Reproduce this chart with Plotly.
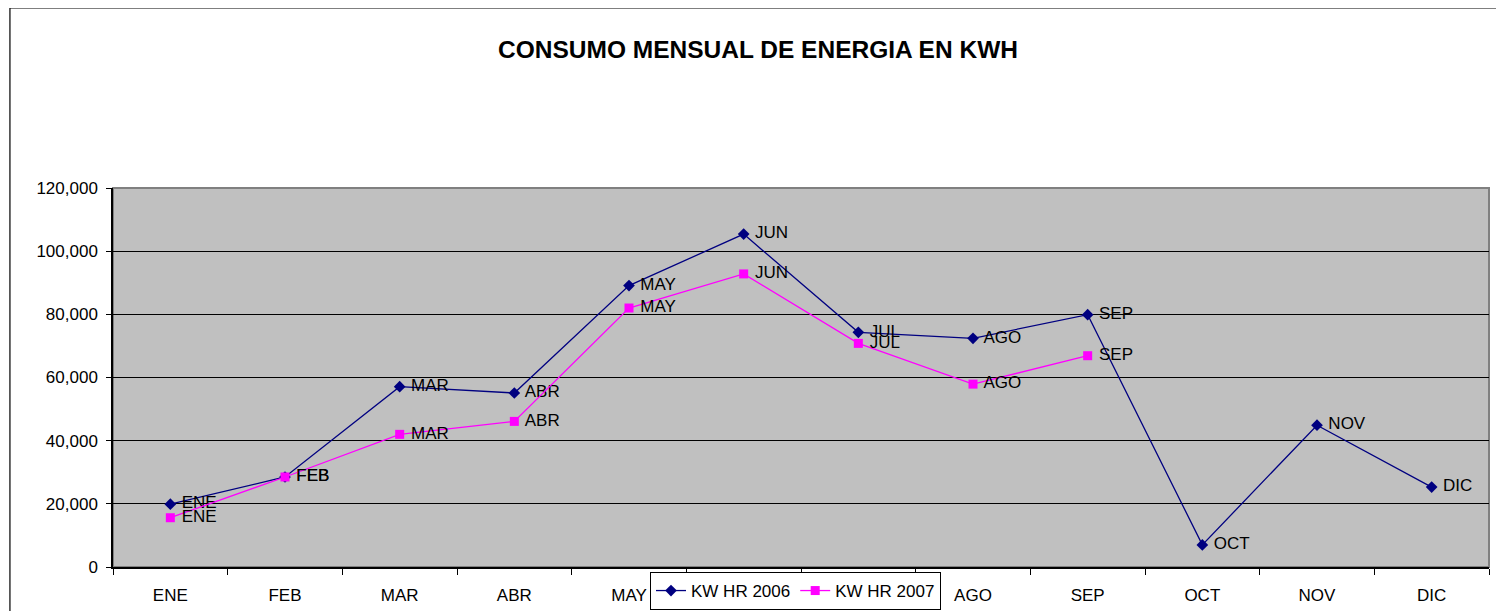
import plotly.graph_objects as go

months = ["ENE", "FEB", "MAR", "ABR", "MAY", "JUN", "JUL", "AGO", "SEP", "OCT", "NOV", "DIC"]
kwh_2006 = [19900, 28500, 57100, 55100, 89100, 105400, 74300, 72400, 79900, 7000, 44900, 25300]
months_2007 = ["ENE", "FEB", "MAR", "ABR", "MAY", "JUN", "JUL", "AGO", "SEP"]
kwh_2007 = [15600, 28500, 42000, 46100, 82000, 92800, 70800, 57900, 66900]
y_ticks = [0, 20000, 40000, 60000, 80000, 100000, 120000]
title_text = "CONSUMO MENSUAL DE ENERGIA EN KWH"

FONT = "Arial, Liberation Sans, sans-serif"
FS = 17

fig = go.Figure()
fig.add_trace(go.Scatter(
    x=months, y=kwh_2006, name="KW HR 2006", mode="lines+markers+text",
    text=[" " + m for m in months], textposition="middle right",
    textfont=dict(family=FONT, size=FS, color="black"),
    line=dict(color="#000080", width=1.3),
    marker=dict(symbol="diamond", size=9, color="#000080"),
))
fig.add_trace(go.Scatter(
    x=months_2007, y=kwh_2007, name="KW HR 2007", mode="lines+markers+text",
    text=[" " + m for m in months_2007], textposition="middle right",
    textfont=dict(family=FONT, size=FS, color="black"),
    line=dict(color="#FF00FF", width=1.3),
    marker=dict(symbol="square", size=9, color="#FF00FF"),
))

# outer chart border (extends beyond the visible area like the cropped reference)
fig.add_shape(type="rect", xref="paper", yref="paper",
              x0=-0.0749, x1=1.05, y0=-0.3, y1=1.475,
              line=dict(color="black", width=1.2), fillcolor="rgba(0,0,0,0)", layer="below")
# plot area border
fig.add_shape(type="rect", xref="paper", yref="paper",
              x0=0, x1=1, y0=0, y1=1,
              line=dict(color="#808080", width=2), fillcolor="rgba(0,0,0,0)", layer="below")

fig.add_annotation(text="<b>" + title_text + "</b>", xref="paper", yref="paper",
                   x=(758 - 113) / 1376, y=(567 - 49) / 379,
                   xanchor="center", yanchor="middle", showarrow=False,
                   font=dict(family=FONT, size=24.5, color="black"))

fig.update_layout(
    width=1504, height=611,
    margin=dict(l=105, r=23, t=180, b=52, autoexpand=False),
    paper_bgcolor="white", plot_bgcolor="#C0C0C0",
    font=dict(family=FONT, size=FS, color="black"),
    showlegend=True,
    legend=dict(orientation="h", x=(650 - 113) / 1376, xanchor="left",
                y=(567 - 572) / 379, yanchor="top",
                bgcolor="white", bordercolor="black", borderwidth=1,
                font=dict(family=FONT, size=FS, color="black"),
                itemwidth=30, tracegroupgap=0),
    xaxis=dict(type="category", categoryorder="array", categoryarray=months,
               range=[-0.5, 11.5], showgrid=False, zeroline=False, automargin=False,
               ticks="outside", tickson="boundaries", ticklen=6, tickcolor="black",
               ticklabelstandoff=12,
               showline=True, linecolor="black", linewidth=1.5,
               tickfont=dict(family=FONT, size=FS, color="black")),
    yaxis=dict(range=[0, 120000], tickvals=y_ticks, tickformat=",", automargin=False,
               showgrid=True, gridcolor="black", gridwidth=1, zeroline=False,
               ticks="outside", ticklen=5, tickcolor="black",
               ticklabelstandoff=5,
               showline=True, linecolor="black", linewidth=1.5,
               tickfont=dict(family=FONT, size=FS, color="black")),
)

fig.write_html("out.html")
